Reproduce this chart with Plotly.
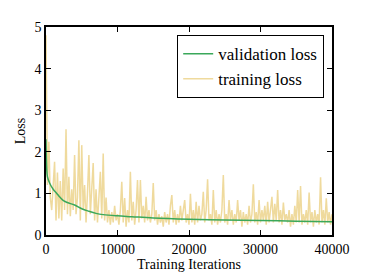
import plotly.graph_objects as go

# Validation loss (iteration, value)
val_iters = [0, 100, 200, 500, 1000, 1500, 2000, 2500, 3000, 4000, 5000, 6000, 7000,
             8000, 10000, 12000, 15000, 20000, 25000, 30000, 35000, 40000]
val_loss = [2.3, 1.6, 1.4, 1.25, 1.1, 1.0, 0.9, 0.82, 0.78, 0.72, 0.63, 0.57, 0.52,
            0.49, 0.46, 0.44, 0.41, 0.38, 0.36, 0.35, 0.33, 0.32]

# Training loss, every 200 iterations from 0 to 40000
train_loss = [
    4.8, 1.2, 2.24, 0.9, 0.6, 1.2, 1.76, 0.35, 1.5, 0.4,
    1.3, 0.35, 1.6, 0.6, 2.54, 0.5, 1.4, 0.45, 1.1, 0.6,
    1.92, 0.5, 0.9, 2.28, 0.35, 2.16, 0.6, 1.2, 0.3, 1.0,
    1.92, 0.5, 1.0, 1.73, 0.35, 1.1, 0.3, 0.8, 1.52, 0.4,
    1.96, 0.35, 0.9, 0.3, 0.6, 0.25, 0.55, 0.3, 0.7, 0.35,
    0.5, 0.25, 0.6, 1.28, 0.3, 0.89, 0.2, 0.6, 0.3, 1.52,
    0.35, 0.8, 0.25, 0.6, 1.32, 0.3, 1.32, 0.4, 0.7, 0.3,
    0.92, 0.35, 0.6, 0.3, 0.5, 1.25, 0.35, 0.6, 0.25, 0.5,
    0.3, 0.45, 0.2, 0.55, 0.3, 0.5, 0.25, 0.7, 0.96, 0.3,
    0.6, 0.25, 0.5, 0.3, 0.7, 0.35, 0.55, 0.84, 0.3, 0.5,
    0.25, 0.99, 0.3, 0.6, 0.25, 0.8, 0.3, 0.7, 0.35, 0.5,
    1.04, 0.3, 0.6, 1.34, 0.35, 0.5, 0.25, 1.08, 0.3, 0.6,
    0.25, 0.5, 0.3, 0.6, 1.44, 0.3, 0.5, 0.25, 0.84, 0.35,
    0.6, 0.25, 0.5, 0.3, 0.84, 0.35, 0.6, 0.2, 0.55, 0.3,
    0.5, 0.25, 0.7, 0.3, 0.5, 1.22, 0.3, 0.55, 0.25, 0.84,
    0.3, 0.6, 0.35, 0.7, 0.25, 0.8, 0.3, 0.6, 0.92, 0.3,
    0.75, 0.35, 1.08, 0.3, 0.6, 0.25, 0.78, 0.35, 0.5, 0.3,
    0.6, 0.2, 0.5, 0.25, 0.7, 0.3, 1.08, 0.3, 1.18, 0.25,
    0.5, 0.3, 0.6, 0.25, 1.02, 0.3, 0.55, 0.2, 0.6, 0.3,
    0.5, 0.25, 1.39, 0.3, 0.6, 0.25, 0.88, 0.3, 0.55, 0.25, 0.5,
]
train_iters = [i * 200 for i in range(len(train_loss))]

x_ticks = [0, 10000, 20000, 30000, 40000]
y_ticks = [0, 1, 2, 3, 4, 5]

FONT = "Liberation Serif"

fig = go.Figure()
fig.add_trace(go.Scatter(x=train_iters, y=train_loss, mode="lines", name="training loss",
                         line=dict(color="rgba(236,212,140,0.85)", width=1.5), legendrank=2))
fig.add_trace(go.Scatter(x=val_iters, y=val_loss, mode="lines", name="validation loss",
                         line=dict(color="#3aa85a", width=1.5, shape="spline"), legendrank=1))

axis_common = dict(showline=True, linecolor="black", linewidth=1.5, mirror="ticks",
                   ticks="inside", ticklen=5, tickcolor="black", showgrid=False,
                   zeroline=False, automargin=False,
                   tickfont=dict(family=FONT, size=14, color="black"))

# page body has an 8px default margin; size the figure so the plot area lands where the reference has it
fig.update_layout(
    width=361, height=269,
    margin=dict(l=38, r=37, t=19, b=42),
    paper_bgcolor="white", plot_bgcolor="white",
    font=dict(family=FONT, color="black"),
    showlegend=True,
    legend=dict(x=0.972, y=0.962, xanchor="right", yanchor="top",
                bgcolor="white", bordercolor="black", borderwidth=1.2,
                font=dict(family=FONT, size=17, color="black")),
    xaxis=dict(range=[0, 40000], tickvals=x_ticks, ticktext=[str(v) for v in x_ticks],
               title=dict(text="Training Iterations", font=dict(family=FONT, size=14), standoff=4),
               **axis_common),
    yaxis=dict(range=[0, 5], tickvals=y_ticks, ticktext=[str(v) for v in y_ticks],
               title=dict(text="Loss", font=dict(family=FONT, size=14), standoff=6),
               **axis_common),
)

fig.write_html("out.html")
